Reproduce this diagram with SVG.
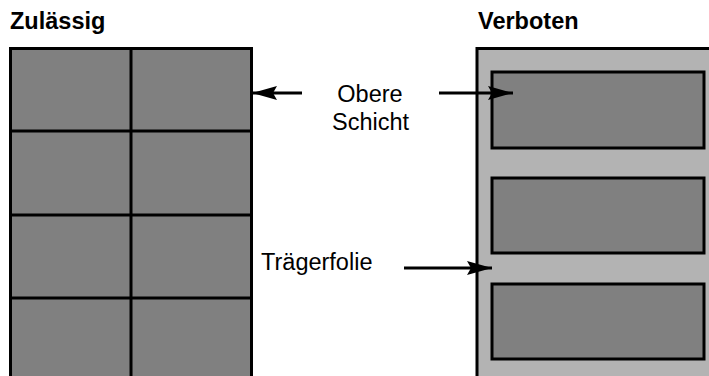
<svg xmlns="http://www.w3.org/2000/svg" width="709" height="376" viewBox="0 0 709 376">
<style>
.t{font-family:"Liberation Sans",Arial,sans-serif;font-size:23.5px;fill:#000}
.b{font-weight:bold;font-size:23.5px}
.dk{fill:#808080;stroke:#000;stroke-width:3}
.lt{fill:#b3b3b3;stroke:#000;stroke-width:3}
.ln{stroke:#000;stroke-width:3}
.ar{stroke:#000;stroke-width:3;fill:none}
</style>
<defs>
<marker id="ah" viewBox="0 0 25 14" refX="25" refY="7" markerWidth="25" markerHeight="14" markerUnits="userSpaceOnUse" orient="auto">
<path d="M0,0 L25,7 L0,14 L4,7 Z" fill="#000"/>
</marker>
</defs>
<rect width="709" height="376" fill="#fff"/>
<g id="titles">
<text class="t b" x="10" y="29">Zulässig</text>
<text class="t b" x="478" y="29">Verboten</text>
</g>
<g id="zulaessig">
<rect class="dk" x="10.5" y="48.5" width="241" height="340"/>
<line class="ln" x1="131" y1="48" x2="131" y2="390"/>
<line class="ln" x1="10" y1="131" x2="252" y2="131"/>
<line class="ln" x1="10" y1="215" x2="252" y2="215"/>
<line class="ln" x1="10" y1="298" x2="252" y2="298"/>
</g>
<g id="verboten">
<rect class="lt" x="477" y="48.5" width="240" height="340"/>
<rect class="dk" x="492" y="72" width="212" height="76"/>
<rect class="dk" x="492" y="178" width="212" height="75"/>
<rect class="dk" x="492" y="284" width="212" height="75"/>
</g>
<g id="labels">
<text class="t" x="370" y="102" text-anchor="middle">Obere</text>
<text class="t" x="370.5" y="130" text-anchor="middle">Schicht</text>
<text class="t" x="261" y="270">Trägerfolie</text>
</g>
<g id="connectors">
<line class="ar" x1="302" y1="93" x2="252" y2="93" marker-end="url(#ah)"/>
<line class="ar" x1="439" y1="93" x2="513" y2="93" marker-end="url(#ah)"/>
<line class="ar" x1="404" y1="268" x2="492" y2="268" marker-end="url(#ah)"/>
</g>
</svg>
